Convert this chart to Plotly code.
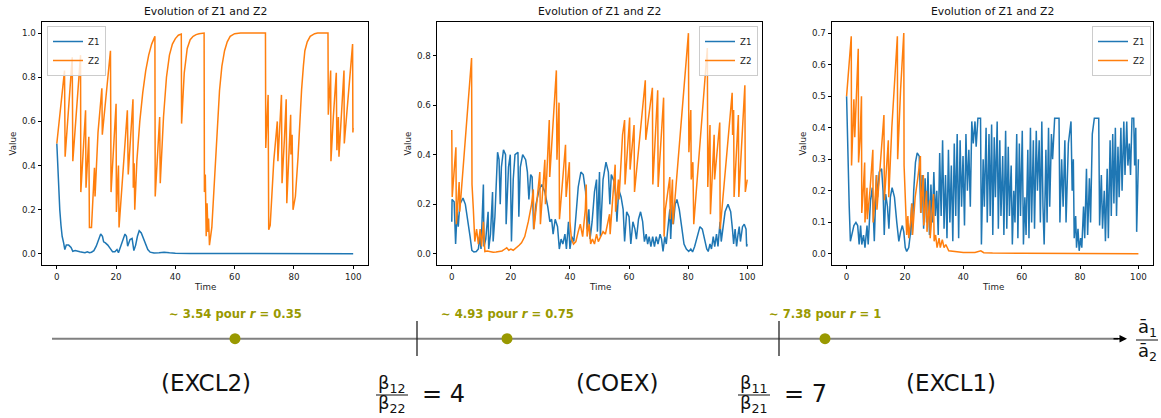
import plotly.graph_objects as go

# ---------------- data (time, value) ----------------
P1_Z1 = [(0,0.50),(0.3,0.40),(0.6,0.30),(1.0,0.20),(1.4,0.13),(1.8,0.08),(2.3,0.05),(2.7,0.02),(3.2,0.04),(4.0,0.04),
         (4.8,0.03),(5.4,0.012),(6.2,0.015),(7.0,0.014),(7.8,0.01),(8.6,0.008),(9.5,0.006),(10.3,0.01),(11.0,0.006),
         (11.7,0.008),(12.5,0.015),(13.3,0.035),(14.0,0.065),(14.8,0.09),(15.4,0.08),(15.8,0.055),(16.4,0.05),(17.2,0.04),
         (18.0,0.025),(18.8,0.01),(19.6,0.01),(20.3,0.02),(20.8,0.006),(21.5,0.03),(22.3,0.06),(23.0,0.09),(23.5,0.08),
         (23.9,0.035),(24.7,0.065),(25.4,0.07),(26.0,0.015),(26.6,0.04),(27.2,0.08),(27.8,0.105),(28.5,0.095),(29.3,0.07),
         (30.0,0.04),(30.7,0.02),(31.5,0.008),(32.8,0.004),(34.5,0.005),(36.2,0.008),(38,0.005),(40,0.003),(45,0.002),
         (60,0.001),(100,0.001)]
P1_Z2 = [(0,0.50),(2.6,0.83),(2.8,0.44),(4.0,0.66),(5.2,0.89),(5.4,0.42),(6.7,0.66),(8.0,0.90),(8.1,0.28),(9.7,0.65),
         (9.85,0.30),(10.8,0.53),(11.0,0.12),(11.7,0.12),(12.7,0.39),(12.9,0.26),(13.9,0.55),(15.2,0.75),(15.35,0.54),
         (18.1,0.92),(18.2,0.61),(18.3,0.28),(20.0,0.68),(20.1,0.19),(20.8,0.40),(21.0,0.12),(23.8,0.65),(24.0,0.48),
         (24.1,0.36),(25.7,0.70),(25.8,0.30),(26.1,0.41),(26.3,0.20),(27,0.42),(28,0.60),(29,0.73),(30,0.83),(31,0.90),
         (32,0.95),(33.1,0.985),(33.2,0.26),(34.7,0.62),(34.9,0.32),(36,0.62),(37,0.80),(38,0.90),(39,0.95),(40,0.975),
         (41,0.99),(42.0,0.995),(42.1,0.59),(43,0.82),(44,0.93),(45,0.97),(46,0.985),(47,0.993),(48,0.997),(49.7,1.0),
         (49.8,0.28),(50.1,0.36),(50.4,0.08),(50.7,0.23),(51.0,0.10),(51.2,0.16),(51.5,0.04),(52.3,0.12),(53.3,0.37),
         (54.1,0.58),(54.9,0.74),(55.7,0.85),(56.6,0.92),(57.5,0.96),(58.5,0.985),(60,0.997),(62,1.0),(70.4,1.0),
         (70.5,0.48),(71.3,0.72),(71.5,0.11),(72,0.13),(73.2,0.42),(74.4,0.60),(74.6,0.42),(75.8,0.72),(76.0,0.32),
         (76.8,0.52),(77.4,0.70),(77.6,0.23),(78.9,0.63),(79.0,0.45),(79.4,0.54),(79.7,0.20),(80.5,0.26),(81.4,0.44),
         (82.0,0.60),(82.6,0.745),(83.2,0.85),(83.7,0.92),(84.5,0.96),(85.5,0.985),(87,0.997),(88,1.0),(91.5,1.0),
         (91.6,0.63),(92.4,0.83),(92.5,0.42),(93.3,0.62),(94.3,0.82),(94.5,0.47),(95.0,0.62),(95.2,0.44),(96.9,0.83),
         (97.0,0.50),(99.8,0.95),(99.9,0.55),(100,0.57)]

P2_Z1 = [(0,0.13),(0.1,0.22),(0.8,0.21),(1.3,0.04),(1.8,0.17),(2.2,0.11),(2.7,0.20),(3.8,0.225),(4.6,0.20),(5.4,0.14),
         (6.2,0.07),(6.8,0.015),(7.5,0.008),(8.3,0.01),(9.0,0.02),(9.5,0.07),(9.9,0.02),(10.7,0.28),(10.9,0.03),
         (11.5,0.06),(12.3,0.17),(12.5,0.02),(13.1,0.08),(13.8,0.25),(14.0,0.05),(14.6,0.15),(15.5,0.41),(16.0,0.38),
         (16.4,0.20),(16.8,0.35),(17.5,0.42),(18.2,0.40),(18.4,0.12),(19.2,0.35),(19.8,0.40),(20.2,0.05),(20.8,0.30),
         (21.4,0.40),(22.4,0.41),(22.7,0.15),(23.2,0.35),(24.0,0.40),(25.0,0.38),(25.6,0.33),(26.1,0.22),(26.7,0.32),
         (27.2,0.31),(27.7,0.10),(28.5,0.20),(29.6,0.26),(30.5,0.28),(31.5,0.25),(32.5,0.19),(33.2,0.13),(33.8,0.14),
         (34.3,0.08),(35.0,0.14),(35.8,0.11),(36.4,0.02),(37.0,0.06),(37.6,0.04),(38.3,0.08),(38.8,0.02),(39.5,0.13),
         (40.0,0.02),(40.6,0.07),(41.3,0.05),(42.0,0.15),(42.8,0.27),(43.7,0.33),(44.5,0.32),(45.3,0.25),(45.8,0.10),
         (46.4,0.18),(46.8,0.06),(47.5,0.13),(48.3,0.25),(49.0,0.30),(49.3,0.09),(50.0,0.33),(50.3,0.07),(51.2,0.30),
         (52.2,0.37),(53.0,0.33),(53.5,0.20),(54.0,0.32),(55.0,0.29),(55.6,0.22),(55.9,0.13),(56.5,0.26),(57.3,0.23),
         (58.0,0.18),(58.5,0.05),(59.2,0.17),(60.0,0.15),(60.6,0.04),(61.3,0.13),(62.0,0.10),(62.5,0.06),(63.2,0.14),
         (63.9,0.17),(64.6,0.13),(65.2,0.05),(65.8,0.08),(66.3,0.04),(66.8,0.07),(67.4,0.03),(68.0,0.07),(68.6,0.03),
         (69.2,0.07),(69.8,0.04),(70.5,0.08),(71.0,0.06),(71.5,0.01),(72.1,0.07),(72.6,0.04),(73.2,0.12),(73.8,0.18),
         (74.1,0.06),(74.6,0.20),(75.0,0.12),(75.6,0.20),(76.2,0.22),(77.0,0.18),(77.8,0.11),(78.6,0.04),(79.4,0.02),
         (80.2,0.01),(80.9,0.02),(81.5,0.008),(82.2,0.03),(83.0,0.07),(84.0,0.11),(84.8,0.10),(85.6,0.06),(86.3,0.02),
         (86.8,0.01),(87.4,0.04),(87.9,0.02),(88.5,0.07),(89.0,0.03),(89.6,0.08),(90.1,0.03),(90.8,0.13),(91.2,0.05),
         (91.8,0.11),(92.5,0.17),(93.5,0.20),(94.4,0.17),(95.0,0.10),(95.4,0.04),(95.9,0.10),(96.4,0.03),(96.9,0.08),
         (97.3,0.11),(97.7,0.05),(98.4,0.11),(99.0,0.12),(99.6,0.10),(99.8,0.03),(100,0.04)]
P2_Z2 = [(0,0.50),(0.15,0.23),(1.4,0.43),(1.55,0.12),(2.5,0.29),(2.7,0.17),(6.7,0.79),(6.85,0.28),(7.3,0.18),(7.8,0.05),
         (8.4,0.10),(9.0,0.04),(9.6,0.10),(10.1,0.03),(10.7,0.13),(11.2,0.01),(12,0.012),(13,0.008),(14,0.007),(15,0.008),
         (16,0.01),(17,0.012),(18,0.02),(18.6,0.025),(19.3,0.015),(20,0.02),(20.8,0.015),(21.9,0.025),(22.8,0.035),
         (23.6,0.045),(24.7,0.07),(25.9,0.13),(27.0,0.20),(27.6,0.26),(27.8,0.10),(28.7,0.20),(29.8,0.33),(30.0,0.12),
         (30.7,0.25),(31.5,0.38),(31.7,0.20),(33.0,0.54),(33.15,0.31),(35.4,0.74),(35.6,0.38),(36.3,0.61),(36.45,0.14),
         (38.5,0.44),(38.7,0.23),(39.8,0.37),(40.0,0.13),(40.5,0.06),(41.2,0.04),(42,0.05),(42.8,0.09),(43.5,0.12),
         (44.3,0.07),(45.2,0.18),(45.5,0.28),(45.8,0.07),(46.5,0.12),(47,0.04),(47.6,0.06),(48.3,0.04),(49,0.08),
         (49.6,0.05),(50.4,0.07),(51.2,0.09),(52,0.08),(52.8,0.12),(53.4,0.16),(53.6,0.08),(54.5,0.25),(55.3,0.36),
         (55.45,0.17),(56.4,0.30),(56.6,0.22),(57.8,0.48),(58.5,0.54),(58.65,0.28),(60.2,0.55),(60.35,0.34),(61.7,0.52),
         (61.85,0.25),(65.5,0.70),(65.65,0.46),(67.9,0.67),(68.05,0.28),(69.7,0.66),(69.85,0.27),(71.7,0.63),(71.85,0.07),
         (72.3,0.18),(73.8,0.31),(73.95,0.14),(74.7,0.30),(74.85,0.12),(80.1,0.89),(80.25,0.41),(80.9,0.58),(81.05,0.30),
         (81.6,0.37),(81.9,0.12),(86.5,0.83),(86.65,0.27),(87.4,0.52),(87.55,0.16),(88.8,0.48),(88.95,0.30),(90.7,0.53),
         (90.85,0.10),(94.9,0.65),(95.05,0.48),(95.4,0.58),(95.55,0.23),(97.0,0.56),(97.15,0.23),(99.2,0.68),(99.35,0.25),
         (100,0.30)]

P3_Z1 = [(0,0.50),(0.4,0.31),(0.9,0.15),(1.3,0.04),(1.8,0.06),(2.5,0.09),(3.2,0.10),(3.8,0.09),(4.3,0.03),(4.8,0.09),
         (5.2,0.03),(5.8,0.06),(6.3,0.02),(7.0,0.09),(7.4,0.03),(8.2,0.17),(8.8,0.21),(9.2,0.10),(9.5,0.04),(10.2,0.25),
         (10.6,0.18),(11.2,0.26),(12.0,0.27),(12.5,0.20),(12.9,0.06),(13.4,0.19),(14.0,0.15),(14.5,0.08),(15.0,0.18),
         (15.6,0.21),(16.4,0.18),(17.2,0.10),(17.9,0.04),(18.5,0.07),(19.1,0.09),(19.6,0.07),(20.1,0.02),(20.6,0.008),
         (21.3,0.02),(21.8,0.06),(22.3,0.16),(22.5,0.06),(23.0,0.20),(23.6,0.29),(24.2,0.32),(24.9,0.31),(25.4,0.13),
         (25.9,0.25),(26.4,0.08),(26.9,0.24),(27.4,0.10),(27.9,0.26),(28.4,0.06),(28.9,0.22),(29.4,0.10),(29.9,0.26),
         (30.4,0.12),(30.9,0.20),(31.4,0.06),(31.9,0.32),(32.4,0.12),(32.9,0.36),(33.4,0.08),(33.9,0.25),(34.4,0.05),
         (34.9,0.33),(35.4,0.10),(35.9,0.28),(36.4,0.04),(36.9,0.35),(37.4,0.12),(37.9,0.38),(38.4,0.05),(38.9,0.36),
         (39.4,0.15),(39.9,0.31),(40.4,0.09),(40.9,0.38),(41.4,0.20),(41.9,0.33),(42.4,0.15),(42.9,0.42),(43.4,0.35),
         (44.0,0.42),(44.4,0.34),(45.0,0.43),(45.9,0.43),(46.2,0.03),(46.8,0.30),(47.2,0.15),(47.8,0.40),(48.2,0.10),
         (48.8,0.38),(49.2,0.12),(49.7,0.41),(50.1,0.06),(50.6,0.37),(51.0,0.18),(51.6,0.42),(52.0,0.08),(52.5,0.36),
         (52.9,0.12),(53.5,0.31),(53.9,0.06),(54.5,0.39),(54.9,0.08),(55.4,0.34),(55.8,0.12),(56.4,0.28),(56.8,0.03),
         (57.3,0.20),(57.7,0.10),(58.3,0.38),(58.7,0.05),(59.2,0.35),(59.6,0.12),(60.2,0.39),(60.6,0.03),(61.1,0.18),
         (61.5,0.06),(62.1,0.33),(62.5,0.05),(63.0,0.40),(63.4,0.10),(64.0,0.36),(64.4,0.08),(65.0,0.39),(65.4,0.20),
         (66.0,0.36),(66.4,0.10),(66.9,0.42),(67.3,0.15),(67.7,0.03),(68.3,0.33),(68.7,0.10),(69.2,0.40),(69.6,0.15),
         (70.2,0.38),(70.6,0.30),(71.3,0.43),(72.8,0.43),(73.1,0.10),(73.7,0.30),(74.2,0.15),(74.8,0.36),(75.2,0.10),
         (76.0,0.35),(76.9,0.42),(77.3,0.20),(77.7,0.30),(78.0,0.05),(78.5,0.12),(78.8,0.02),(79.3,0.08),(79.7,0.01),
         (80.2,0.05),(80.6,0.02),(81.2,0.15),(81.6,0.05),(82.2,0.27),(82.6,0.06),(83.2,0.24),(83.6,0.10),(84.2,0.38),
         (84.9,0.43),(86.4,0.43),(86.7,0.09),(87.3,0.25),(87.7,0.08),(88.3,0.20),(88.7,0.04),(89.3,0.27),(89.7,0.05),
         (90.3,0.36),(90.7,0.12),(91.2,0.38),(91.6,0.16),(92.1,0.40),(92.5,0.12),(93.0,0.34),(93.4,0.18),(94.0,0.40),
         (94.4,0.20),(95.0,0.42),(95.4,0.25),(96.0,0.42),(96.4,0.28),(96.9,0.35),(97.3,0.25),(97.8,0.43),(98.4,0.43),
         (98.7,0.28),(99.1,0.40),(99.4,0.07),(100,0.30)]
P3_Z2 = [(0,0.50),(1.6,0.69),(1.7,0.28),(2.1,0.40),(2.5,0.49),(2.8,0.37),(4.0,0.65),(4.1,0.29),(4.6,0.36),(5.1,0.50),
         (5.2,0.13),(5.7,0.20),(6.2,0.29),(6.3,0.10),(7.0,0.21),(7.1,0.11),(8.0,0.20),(9.0,0.33),(9.1,0.10),(9.8,0.18),
         (10.3,0.25),(10.4,0.14),(11.5,0.28),(12.8,0.44),(12.95,0.17),(14.3,0.36),(14.45,0.18),(15.5,0.40),(17.4,0.69),
         (17.5,0.30),(18.5,0.52),(19.6,0.70),(19.7,0.28),(20.1,0.15),(20.6,0.06),(21.0,0.12),(21.3,0.05),(21.9,0.10),
         (22.4,0.16),(22.6,0.06),(23.5,0.18),(24.4,0.24),(25.3,0.31),(25.45,0.13),(26.3,0.25),(26.45,0.09),(27.4,0.20),
         (27.55,0.07),(28.5,0.17),(28.65,0.05),(29.8,0.19),(30.0,0.04),(30.5,0.06),(31.0,0.02),(31.7,0.05),(32.1,0.02),
         (32.8,0.045),(33.4,0.02),(34.0,0.03),(35.0,0.01),(37.0,0.008),(40.0,0.005),(44.0,0.005),(46.0,0.01),
         (47.0,0.004),(50.0,0.003),(60.0,0.002),(100,0.001)]

PANELS = [(P1_Z1, P1_Z2), (P2_Z1, P2_Z2), (P3_Z1, P3_Z2)]
SERIES_NAMES = ["Z1", "Z2"]
SERIES_COLORS = ["#1f77b4", "#ff7f0e"]
TIME_TICKS = [0, 20, 40, 60, 80, 100]
Y_TICKS = [[0.0, 0.2, 0.4, 0.6, 0.8, 1.0], [0.0, 0.2, 0.4, 0.6, 0.8], [0.0, 0.1, 0.2, 0.3, 0.4, 0.5, 0.6, 0.7]]
Y_RANGES = [[-0.05, 1.05], [-0.0445, 0.935], [-0.035, 0.735]]
TITLE = "Evolution of Z1 and Z2"

# bottom schematic
THRESH_VALUES = [3.54, 4.93, 7.38]
THRESH_R = ["0.35", "0.75", "1"]
BOUND_VALUES = [4, 7]
BOUND_SUBS = [("12", "22"), ("11", "21")]
REGIMES = ["(EXCL2)", "(COEX)", "(EXCL1)"]

# ---------------- layout geometry (pixels) ----------------
W, H = 1161, 418
def px(x): return x / W
def py(y): return 1 - y / H

PANEL_X = [(42, 368), (437, 762), (832, 1153)]
PANEL_Y = (22, 265)
VALUE_X = [12, 407, 802]
LEGEND_POS = [(47, "left"), (758, "right"), (1151, "right")]

THRESH_POS = [235, 507, 825]
BOUND_POS = [417, 779]
REGIME_POS = [206, 617, 951]
AXIS_Y = 338.7
OLIVE = "#999900"

fig = go.Figure()
ann = []
layout = dict(width=W, height=H, margin=dict(l=0, r=0, t=0, b=0, pad=0),
              paper_bgcolor="white", plot_bgcolor="white",
              font=dict(family="DejaVu Sans", color="#222"), showlegend=True)

for i, (series_pair, (x0, x1)) in enumerate(zip(PANELS, PANEL_X)):
    k = "" if i == 0 else str(i + 1)
    leg = "legend" if i == 0 else f"legend{i+1}"
    for s, name, col in zip(series_pair, SERIES_NAMES, SERIES_COLORS):
        fig.add_trace(go.Scatter(x=[p[0] for p in s], y=[p[1] for p in s], mode="lines", name=name,
                                 line=dict(color=col, width=1.5), xaxis="x" + k, yaxis="y" + k,
                                 legend=leg, hoverinfo="skip"))
    axcommon = dict(showline=True, linecolor="black", linewidth=0.8, mirror=True, ticks="outside",
                    ticklen=3.5, tickwidth=0.8, tickcolor="black", showgrid=False, zeroline=False,
                    tickfont=dict(size=8.7, color="#222"), automargin=False)
    layout["xaxis" + k] = dict(domain=[px(x0), px(x1)], range=[-5, 105], tickvals=TIME_TICKS,
                               anchor="y" + k, **axcommon)
    layout["yaxis" + k] = dict(domain=[py(PANEL_Y[1]), py(PANEL_Y[0])], range=Y_RANGES[i],
                               tickvals=Y_TICKS[i], ticktext=[f"{v:.1f}" for v in Y_TICKS[i]],
                               anchor="x" + k, **axcommon)
    lx, lanchor = LEGEND_POS[i]
    layout[leg] = dict(x=px(lx), xanchor=lanchor, y=py(26), yanchor="top", bgcolor="rgba(255,255,255,0.8)",
                       bordercolor="#cccccc", borderwidth=1, font=dict(size=8.7, color="#222"),
                       itemwidth=30, tracegroupgap=0)
    cx = (x0 + x1) / 2
    ann.append(dict(text=TITLE, x=px(cx), y=py(11.5), xref="paper", yref="paper", showarrow=False,
                    font=dict(size=10.8, color="#111"), xanchor="center", yanchor="middle"))
    ann.append(dict(text="Time", x=px(cx), y=py(287), xref="paper", yref="paper", showarrow=False,
                    font=dict(size=8.7, color="#222"), xanchor="center", yanchor="middle"))
    ann.append(dict(text="Value", x=px(VALUE_X[i]), y=py(sum(PANEL_Y) / 2), xref="paper", yref="paper",
                    showarrow=False, textangle=-90, font=dict(size=8.7, color="#222"),
                    xanchor="center", yanchor="middle"))

# bottom schematic axis in pixel units
layout["xaxis4"] = dict(domain=[0, 1], range=[0, W], visible=False, anchor="y4", fixedrange=True)
layout["yaxis4"] = dict(domain=[0, 0.3], range=[H, H - 0.3 * H], visible=False, anchor="x4", fixedrange=True)

fig.add_trace(go.Scatter(x=[52, 1118], y=[AXIS_Y, AXIS_Y], mode="lines", line=dict(color="#808080", width=2),
                         xaxis="x4", yaxis="y4", showlegend=False, hoverinfo="skip"))
ann.append(dict(x=1127, y=AXIS_Y, ax=1112, ay=AXIS_Y, xref="x4", yref="y4", axref="x4", ayref="y4",
                text="", showarrow=True, arrowhead=2, arrowsize=1, arrowwidth=1.5, arrowcolor="black"))
tx, ty = [], []
for b in BOUND_POS:
    tx += [b, b, None]
    ty += [321, 356, None]
fig.add_trace(go.Scatter(x=tx, y=ty, mode="lines", line=dict(color="#222", width=1.3),
                         xaxis="x4", yaxis="y4", showlegend=False, hoverinfo="skip"))
fig.add_trace(go.Scatter(x=THRESH_POS, y=[AXIS_Y] * 3, mode="markers",
                         marker=dict(color=OLIVE, size=11, line=dict(width=0)),
                         xaxis="x4", yaxis="y4", showlegend=False, hoverinfo="skip"))
for pos, v, r in zip(THRESH_POS, THRESH_VALUES, THRESH_R):
    ann.append(dict(text=f"<b>∼ {v} pour <i>r</i> = {r}</b>", x=pos, y=314.5, xref="x4", yref="y4",
                    showarrow=False, font=dict(size=11.6, color=OLIVE), xanchor="center", yanchor="middle"))
for pos, name in zip(REGIME_POS, REGIMES):
    ann.append(dict(text=name, x=pos, y=383, xref="x4", yref="y4", showarrow=False,
                    font=dict(size=23, color="#111"), xanchor="center", yanchor="middle"))
shapes = []
for pos, val, (sn, sd) in zip(BOUND_POS, BOUND_VALUES, BOUND_SUBS):
    fc = pos - 25
    ann.append(dict(text=f"β<sub>{sn}</sub>", x=fc, y=384, xref="x4", yref="y4", showarrow=False,
                    font=dict(size=18, color="#111"), xanchor="center", yanchor="middle"))
    ann.append(dict(text=f"β<sub>{sd}</sub>", x=fc, y=404, xref="x4", yref="y4", showarrow=False,
                    font=dict(size=18, color="#111"), xanchor="center", yanchor="middle"))
    shapes.append(dict(type="line", xref="x4", yref="y4", x0=fc - 16, x1=fc + 16, y0=395, y1=395,
                       line=dict(color="#111", width=1.2)))
    ann.append(dict(text=f"= {val}", x=pos + 3, y=394, xref="x4", yref="y4", showarrow=False,
                    font=dict(size=24, color="#111"), xanchor="left", yanchor="middle"))
# axis label  ā1 / ā2
ann.append(dict(text="ā<sub>1</sub>", x=1147, y=328, xref="x4", yref="y4", showarrow=False,
                font=dict(size=18, color="#111"), xanchor="center", yanchor="middle"))
ann.append(dict(text="ā<sub>2</sub>", x=1147, y=352, xref="x4", yref="y4", showarrow=False,
                font=dict(size=18, color="#111"), xanchor="center", yanchor="middle"))
shapes.append(dict(type="line", xref="x4", yref="y4", x0=1136, x1=1158, y0=340, y1=340,
                   line=dict(color="#111", width=1.2)))

layout["annotations"] = ann
layout["shapes"] = shapes
fig.update_layout(**layout)
fig.write_html("out.html", config={"displayModeBar": False},
               post_script="document.body.style.margin='0';document.body.style.overflow='hidden';")
